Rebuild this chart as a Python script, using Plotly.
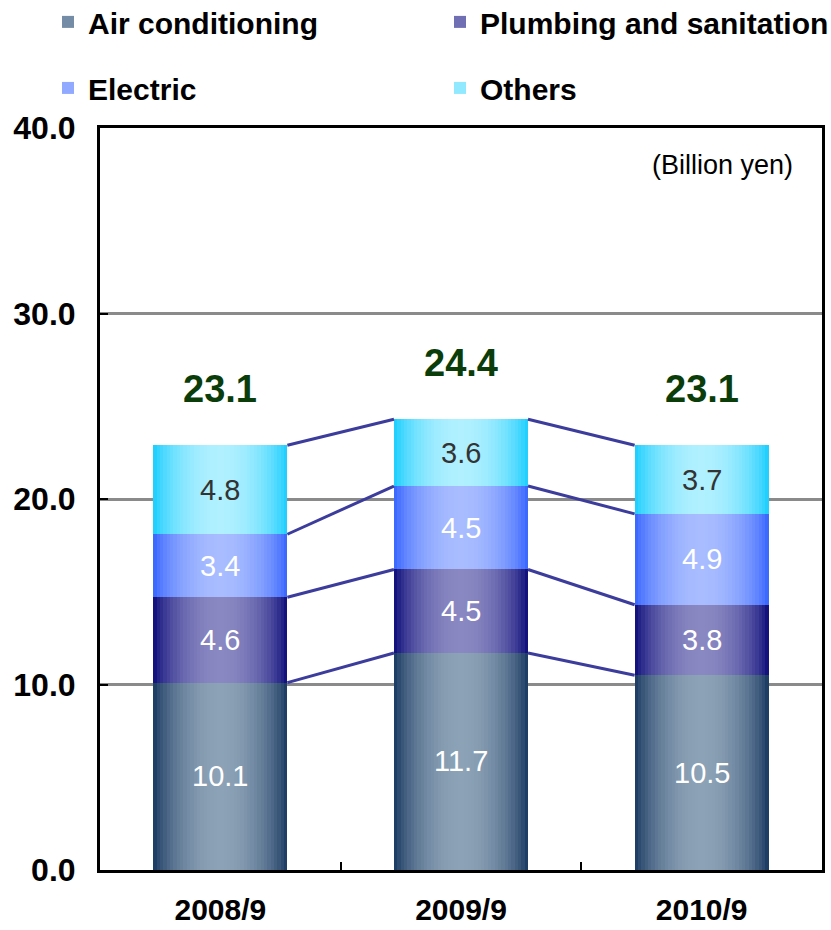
import plotly.graph_objects as go
import math

categories = ["2008/9", "2009/9", "2010/9"]
series_names = ["Air conditioning", "Plumbing and sanitation", "Electric", "Others"]
air_conditioning = [10.1, 11.7, 10.5]
plumbing = [4.6, 4.5, 3.8]
electric = [3.4, 4.5, 4.9]
others = [4.8, 3.6, 3.7]
totals = [23.1, 24.4, 23.1]

series_values = [air_conditioning, plumbing, electric, others]

# gradient styling: (edge colour, centre colour)
grad = [
    ((18, 50, 92), (140, 162, 182)),
    ((6, 6, 118), (138, 136, 194)),
    ((48, 96, 255), (168, 188, 255)),
    ((16, 204, 255), (176, 240, 255)),
]
label_colors = ["white", "white", "white", "#333333"]
legend_groups = ["legend", "legend", "legend2", "legend2"]

W = 0.557
N = 40
x = list(range(len(categories)))

def mix(a, b, f):
    return "rgb(%d,%d,%d)" % tuple(round(a[i] + (b[i] - a[i]) * f) for i in range(3))

fig = go.Figure()

bases = [[0.0] * len(categories)]
for vals in series_values:
    bases.append([bases[-1][j] + vals[j] for j in range(len(categories))])

for s, vals in enumerate(series_values):
    edge, centre = grad[s]
    for k in range(N):
        t = (k + 0.5) / N
        f = math.sin(math.pi * t) ** 0.7
        col = mix(edge, centre, f)
        show = (k == N // 4)
        fig.add_trace(go.Bar(
            x=x, y=vals, base=bases[s],
            width=W / N * (1.5 if k < N - 1 else 1.0),
            offset=-W / 2 + k * W / N,
            marker=dict(color=col, line=dict(width=0)),
            name=series_names[s], showlegend=show,
            legend=legend_groups[s], legendgroup=series_names[s],
            hoverinfo="skip",
        ))

# connecting lines between stack levels
for lvl in range(1, len(bases)):
    for j in range(len(categories) - 1):
        fig.add_trace(go.Scatter(
            x=[x[j] + W / 2, x[j + 1] - W / 2],
            y=[bases[lvl][j], bases[lvl][j + 1]],
            mode="lines", line=dict(color="#3c3c9c", width=3),
            showlegend=False, hoverinfo="skip",
        ))

annotations = []
for s, vals in enumerate(series_values):
    for j in range(len(categories)):
        annotations.append(dict(
            x=x[j], y=bases[s][j] + vals[j] / 2, text="%.1f" % vals[j],
            showarrow=False, font=dict(family="Liberation Sans, Arial", size=29, color=label_colors[s]),
        ))
for j in range(len(categories)):
    annotations.append(dict(
        x=x[j], y=bases[-1][j], text="%.1f" % totals[j], yanchor="bottom", yshift=33,
        showarrow=False, font=dict(family="Liberation Sans, Arial", size=38, color="#0a3d0a", weight="bold"),
    ))
annotations.append(dict(
    xref="paper", yref="paper", x=0.9626, y=0.950, xanchor="right", yanchor="middle",
    text="(Billion yen)", showarrow=False,
    font=dict(family="Liberation Sans, Arial", size=27, color="black"),
))

bold_font = dict(family="Liberation Sans, Arial", size=30, color="black", weight="bold")

fig.update_layout(
    width=831, height=930,
    margin=dict(l=100, r=9, t=128, b=60, autoexpand=False),
    plot_bgcolor="white", paper_bgcolor="white",
    barmode="overlay", bargap=0,
    annotations=annotations,
    legend=dict(orientation="h", x=-0.072, y=1.143, xanchor="left", yanchor="middle",
                entrywidth=347, entrywidthmode="pixels", font=bold_font,
                bgcolor="rgba(0,0,0,0)", traceorder="normal"),
    legend2=dict(orientation="h", x=-0.072, y=1.054, xanchor="left", yanchor="middle",
                 entrywidth=347, entrywidthmode="pixels", font=bold_font,
                 bgcolor="rgba(0,0,0,0)", traceorder="normal"),
    xaxis=dict(range=[-0.5, 2.5], tickvals=x, ticktext=categories, ticks="",
               showgrid=False, zeroline=False, showline=True, linecolor="black",
               linewidth=3, mirror=True, ticklabelstandoff=11,
               tickfont=dict(family="Liberation Sans, Arial", size=30, color="black", weight="bold"),
               minor=dict(tickvals=[0.5, 1.5], ticks="inside", ticklen=8, tickwidth=2, tickcolor="black")),
    yaxis=dict(range=[0, 40], dtick=10, tickformat=".1f", ticks="inside", ticklen=8,
               tickwidth=2, tickcolor="black", showgrid=True, gridcolor="#8a8a8a", gridwidth=3,
               zeroline=False, showline=True, linecolor="black", linewidth=3, mirror=True,
               ticklabelstandoff=15,
               tickfont=dict(family="Liberation Sans, Arial", size=32, color="black", weight="bold")),
)

fig.write_html("out.html")
